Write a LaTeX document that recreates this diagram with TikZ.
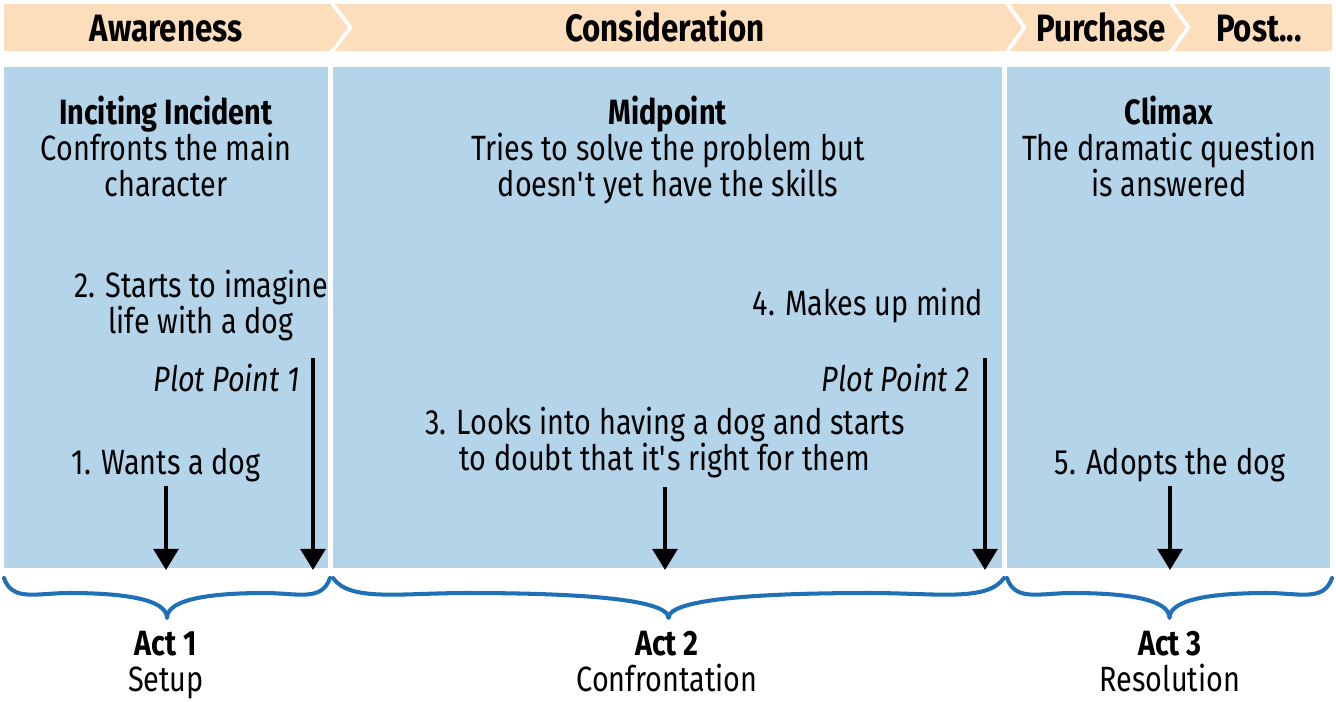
\documentclass[tikz,border=0pt]{standalone}
\usepackage{fontspec}
\setmainfont{Fira Sans}[FakeStretch=0.82]
\usetikzlibrary{arrows.meta, positioning}
\definecolor{peach}{HTML}{FCDEBC}
\definecolor{paleblue}{HTML}{B4D4EA}
\definecolor{curlblue}{HTML}{1F70B6}
\definecolor{inkblack}{HTML}{000000}

% curly brace under one act: left x, right x
\newcommand{\actcurl}[2]{%
  \pgfmathsetmacro{\cmid}{(#1+#2)/2}%
  \pgfmathsetmacro{\chalf}{(#2-#1)/2}%
  \draw[curl] (#1,578)
    .. controls (#1+0.05*\chalf,602) and (#1+0.2*\chalf,593) .. (#1+0.4*\chalf,593)
    .. controls (#1+0.7*\chalf,593) and (\cmid,598) .. (\cmid,618)
    .. controls (\cmid,598) and (#2-0.7*\chalf,593) .. (#2-0.4*\chalf,593)
    .. controls (#2-0.2*\chalf,593) and (#2-0.05*\chalf,602) .. (#2,578);
}

\begin{document}
\begin{tikzpicture}[x=0.02cm, y=-0.02cm,
  >={Triangle[length=12pt, width=14pt]},
  txt/.style={font=\fontsize{20}{20.4}\selectfont, text=inkblack, inner sep=0pt, align=center, anchor=north},
  stage/.style={font=\fontsize{21.7}{22}\selectfont\bfseries, text=inkblack, inner sep=0pt, anchor=base},
  plotpt/.style={txt, font=\fontsize{20}{20.4}\selectfont\itshape, anchor=north east},
  steparrow/.style={->, line width=2.3pt, inkblack},
  curl/.style={curlblue, line width=2.3pt, line cap=round, line join=round}]

% Canvas
\useasboundingbox (0,0) rectangle (1336,701);
\fill[white] (0,0) rectangle (1336,701);

% Journey banner
\fill[peach] (4,4) -- (330,4) -- (348,27.5) -- (330,51) -- (4,51) -- cycle;
\fill[peach] (335,4) -- (1005,4) -- (1022,27.5) -- (1005,51) -- (335,51) -- (353,27.5) -- cycle;
\fill[peach] (1010,4) -- (1169,4) -- (1186,27.5) -- (1169,51) -- (1010,51) -- (1027,27.5) -- cycle;
\fill[peach] (1174,4) -- (1332,4) -- (1332,51) -- (1174,51) -- (1191,27.5) -- cycle;

\node[stage] (aware) at (166,41) {Awareness};
\node[stage] (consider) at (665,41) {Consideration};
\node[stage] (purchase) at (1101,41) {Purchase};
\node[stage] (post) at (1259,41) {Post...};

% Act panels
\fill[paleblue] (4,67) rectangle (328,568);
\fill[paleblue] (333,67) rectangle (1002,568);
\fill[paleblue] (1007,67) rectangle (1330,568);

% Turning points
\node[txt] (inciting) at (166,96) {\textbf{Inciting Incident}\\Confronts the main\\character};
\node[txt] (midpoint) at (668,96) {\textbf{Midpoint}\\Tries to solve the problem but\\doesn\textquotesingle t yet have the skills};
\node[txt] (climax) at (1169,96) {\textbf{Climax}\\The dramatic question\\is answered};

% Steps
\node[txt] (step2) at (201,270) {2. Starts to imagine\\life with a dog};
\node[txt] (step4) at (868,288) {4. Makes up mind};
\node[plotpt] (plot1) at (300,364) {Plot Point 1};
\node[plotpt] (plot2) at (970,364) {Plot Point 2};
\node[txt] (step1) at (166,448) {1. Wants a dog};
\node[txt] (step3) at (665,407) {3. Looks into having a dog and starts\\to doubt that it\textquotesingle s right for them};
\node[txt] (step5) at (1170,448) {5. Adopts the dog};

% Arrows
\coordinate (end1) at (166,570);
\coordinate (end3) at (665,570);
\coordinate (end5) at (1170,570);
\coordinate (pp1top) at (313,358);
\coordinate (pp1end) at (313,570);
\coordinate (pp2top) at (985,358);
\coordinate (pp2end) at (985,570);

\draw[steparrow, shorten <=2pt] (step1.south) -- (end1);
\draw[steparrow, shorten <=5pt] (step3.south) -- (end3);
\draw[steparrow, shorten <=2pt] (step5.south) -- (end5);
\draw[steparrow] (pp1top) -- (pp1end);
\draw[steparrow] (pp2top) -- (pp2end);

% Braces
\actcurl{4}{330}
\actcurl{333}{1004}
\actcurl{1007}{1332}

% Acts
\node[txt] (act1) at (166,631) {\textbf{Act 1}\\Setup};
\node[txt] (act2) at (667,631) {\textbf{Act 2}\\Confrontation};
\node[txt] (act3) at (1170,631) {\textbf{Act 3}\\Resolution};

\end{tikzpicture}
\end{document}
